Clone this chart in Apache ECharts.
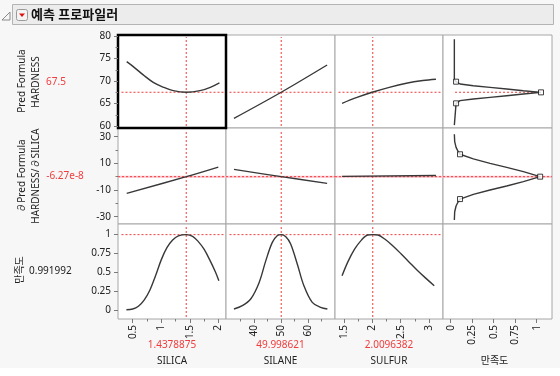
<!DOCTYPE html>
<html><head><meta charset="utf-8">
<script src="https://cdn.jsdelivr.net/npm/echarts@6/dist/echarts.min.js"></script>
<style>html,body{margin:0;padding:0;background:#fff}#c{width:560px;height:376px}</style>
</head><body><div id="c"></div>
<script>
// ---------- data ----------
const factorNames = ['SILICA', 'SILANE', 'SULFUR', '만족도'];
const currentX = [1.4378875, 49.998621, 2.0096382];
const currentXLabels = ['1.4378875', '49.998621', '2.0096382'];
const rowCurrent = [67.5, -6.27e-8, 0.991992];
const rowCurrentLabels = ['67.5', '-6.27e-8', '0.991992'];

// tick labels
const hardTicks = [60, 65, 70, 75, 80];
const hardMinor = [62.5, 67.5, 72.5, 77.5];
const derivTicks = [-30, -10, 10, 30];
const derivMinor = [-20, 0, 20];
const desirTicks = [0, 0.25, 0.5, 0.75, 1];
const silicaTicks = [0.5, 1, 1.5, 2];
const silicaMinor = [0.75, 1.25, 1.75];
const silaneTicks = [40, 50, 60];
const silaneMinor = [35, 45, 55, 65];
const sulfurTicks = [1.5, 2, 2.5, 3];
const sulfurMinor = [1.75, 2.25, 2.75];

// row 1: Pred Formula HARDNESS
const hardSilicaX = [0.395, 0.51, 0.69, 0.86, 1.04, 1.21, 1.44, 1.68, 1.86, 2.02];
const hardSilicaY = [74.3, 73.2, 71.3, 69.7, 68.6, 67.85, 67.5, 67.85, 68.6, 69.6];
const hardSilaneX = [32.5, 50, 67];
const hardSilaneY = [61.7, 67.5, 73.55];
const hardSulfurX = [1.47, 1.72, 2.0, 2.3, 2.6, 2.89, 3.12];
const hardSulfurY = [65.04, 66.3, 67.5, 68.6, 69.5, 70.1, 70.4];
// row 2: dHARDNESS/dSILICA
const derivSilicaX = [0.395, 1.44, 2.0];
const derivSilicaY = [-12.5, 0, 7.2];
const derivSilaneX = [32.5, 50, 67];
const derivSilaneY = [5.5, 0, -5];
const derivSulfurX = [1.47, 3.12];
const derivSulfurY = [0.2, 0.9];
// row 3: desirability
const desSilicaX = [0.39, 0.5, 0.6, 0.7, 0.8, 0.9, 1.0, 1.1, 1.2, 1.3, 1.44, 1.55, 1.65, 1.75, 1.85, 1.95, 2.01];
const desSilicaY = [0.004, 0.013, 0.05, 0.13, 0.26, 0.45, 0.66, 0.82, 0.92, 0.975, 0.992, 0.97, 0.9, 0.8, 0.66, 0.5, 0.385];
const desSilaneX = [32.5, 35.6, 38.7, 41.8, 44.3, 46.7, 48.6, 50, 51.7, 53.5, 56, 58.4, 61.5, 64.6, 67.1];
const desSilaneY = [0.013, 0.057, 0.145, 0.36, 0.65, 0.89, 0.98, 0.992, 0.965, 0.87, 0.6, 0.32, 0.1, 0.035, 0.013];
const desSulfurX = [1.47, 1.57, 1.69, 1.81, 1.92, 2.01, 2.10, 2.22, 2.36, 2.51, 2.65, 2.80, 2.94, 3.09];
const desSulfurY = [0.45, 0.63, 0.80, 0.92, 0.987, 0.992, 0.987, 0.934, 0.846, 0.737, 0.63, 0.517, 0.42, 0.32];
// desirability functions (x = desirability, y = response)
const dfHardD = [0.042, 0.042, 0.062, 0.108, 0.263, 0.457, 0.651, 0.845, 1.05, 0.845, 0.651, 0.457, 0.263, 0.108, 0.062, 0.042, 0.042];
const dfHardY = [79.27, 70.3, 69.85, 69.33, 68.96, 68.59, 68.22, 67.85, 67.48, 67.11, 66.74, 66.37, 66.0, 65.63, 65.04, 64.6, 60.2];
const dfHardMarkD = [0.062, 1.05, 0.062];
const dfHardMarkY = [69.85, 67.48, 65.04];
const dfDerivD = [0.042, 0.046, 0.062, 0.085, 0.108, 0.263, 0.457, 0.651, 0.845, 1.04, 0.845, 0.651, 0.457, 0.263, 0.108, 0.085, 0.062, 0.046, 0.042];
const dfDerivY = [31.8, 26.3, 22, 19, 16.8, 13.3, 10, 7, 3.75, 0, -3.75, -7, -10, -13.3, -16.8, -19, -22, -26.3, -32.5];
const dfDerivMarkD = [0.108, 1.04, 0.108];
const dfDerivMarkY = [16.8, 0, -16.8];
const desirRefSpan = [0.05, 1.04];

// ---------- layout ----------
const colLeft = [118, 226, 335, 443], colW = [108, 109, 108, 109];
const rowTop = [35, 128, 224], rowH = [93, 96, 95];
const colRange = [[0.2424, 2.135], [29.55, 69.92], [1.346, 3.244], [-0.09, 1.178]];
const rowRange = [[59.56, 80.22], [-35.5, 36.5], [-0.118, 1.132]];
const colMajor = [silicaTicks, silaneTicks, sulfurTicks, desirTicks];
const colMinor = [silicaMinor, silaneMinor, sulfurMinor, []];
const rowMajor = [hardTicks, derivTicks, desirTicks];
const rowMinor = [hardMinor, derivMinor, []];

const FONT = "'Noto Sans', 'Noto Sans CJK KR', sans-serif";
const TXT = '#222', RED = '#f03c3c', CURVE = '#383838';
const zip = (a, b) => a.map((v, i) => [v, b[i]]);

const curves = [
  [zip(hardSilicaX, hardSilicaY), zip(hardSilaneX, hardSilaneY), zip(hardSulfurX, hardSulfurY), zip(dfHardD, dfHardY)],
  [zip(derivSilicaX, derivSilicaY), zip(derivSilaneX, derivSilaneY), zip(derivSulfurX, derivSulfurY), zip(dfDerivD, dfDerivY)],
  [zip(desSilicaX, desSilicaY), zip(desSilaneX, desSilaneY), zip(desSulfurX, desSulfurY), null]
];
const markers = [zip(dfHardMarkD, dfHardMarkY), zip(dfDerivMarkD, dfDerivMarkY), null];

const grids = new Array(12), xAxes = [], yAxes = [], series = [];
const gi = p => (p + 11) % 12; // highlighted panel drawn last
for (let r = 0; r < 3; r++) for (let c = 0; c < 4; c++) {
  const p = r * 4 + c;
  grids[gi(p)] = {
    left: colLeft[c], top: rowTop[r], width: colW[c], height: rowH[r],
    show: true, backgroundColor: '#fff',
    borderColor: p === 0 ? '#000' : '#a6a6a6', borderWidth: p === 0 ? 2.5 : 1
  };
}
function axis(g, pos, rng, showT, major, len, labelOpts) {
  return {
    type: 'value', gridIndex: g, position: pos, offset: 0, min: rng[0], max: rng[1],
    axisLine: { show: false, onZero: false }, splitLine: { show: false }, axisPointer: { show: false },
    axisTick: { show: showT, length: len, lineStyle: { color: '#7a7a7a' }, customValues: major },
    axisLabel: labelOpts ? Object.assign({ show: true, customValues: major, color: TXT, fontSize: 10, fontFamily: FONT }, labelOpts) : { show: false }
  };
}
for (let p = 0; p < 12; p++) {
  const r = Math.floor(p / 4), c = p % 4;
  xAxes.push(axis(gi(p), 'bottom', colRange[c], r === 2, colMajor[c], 4, r === 2 ? { rotate: 90, margin: 6 } : null));
  yAxes.push(axis(gi(p), 'left', rowRange[r], c === 0, rowMajor[r], 4, c === 0 ? { margin: 7 } : null));
}
for (let p = 0; p < 12; p++) {
  const r = Math.floor(p / 4), c = p % 4;
  if (r === 2 && colMinor[c].length) xAxes.push(axis(gi(p), 'bottom', colRange[c], true, colMinor[c], 2.5, null));
  if (c === 0 && rowMinor[r].length) yAxes.push(axis(gi(p), 'left', rowRange[r], true, rowMinor[r], 2.5, null));
}

function refLine(p, data, style, z) {
  series.push({ type: 'line', xAxisIndex: p, yAxisIndex: p, data, showSymbol: false, silent: true,
    color: style.color, lineStyle: Object.assign({}, style), z: z || 3, animation: false });
}
const dot = () => ({ color: RED, width: 1, type: [2, 2] });
for (let r = 0; r < 3; r++) for (let c = 0; c < 4; c++) {
  const p = r * 4 + c;
  const xr = colRange[c], yr = rowRange[r];
  const xin = (xr[1] - xr[0]) * 3.5 / colW[c], yin = (yr[1] - yr[0]) * 2 / rowH[r];
  if (r === 1) {
    refLine(p, [[xr[0], rowCurrent[1]], [xr[1], rowCurrent[1]]], { color: '#ffc4cc', width: 2 }, 2);
    refLine(p, [[xr[0], rowCurrent[1]], [xr[1], rowCurrent[1]]], dot());
  } else if (c < 3) {
    refLine(p, [[xr[0] + xin, rowCurrent[r]], [xr[1] - xin * 0.7, rowCurrent[r]]], dot());
  } else if (r === 0) {
    refLine(p, [[desirRefSpan[0], rowCurrent[0]], [desirRefSpan[1], rowCurrent[0]]], dot());
  }
  if (c < 3) refLine(p, [[currentX[c], yr[0] + yin], [currentX[c], yr[1] - yin]], dot());
  if (curves[r][c]) {
    series.push({ type: 'line', xAxisIndex: p, yAxisIndex: p, data: curves[r][c], showSymbol: false,
      smooth: c < 3 ? 0.35 : false, silent: true, z: 4, animation: false, color: CURVE,
      lineStyle: { color: CURVE, width: 1.4 } });
  }
  if (c === 3 && markers[r]) {
    series.push({ type: 'scatter', xAxisIndex: p, yAxisIndex: p, data: markers[r], symbol: 'rect', symbolSize: 5,
      silent: true, z: 5, animation: false, itemStyle: { color: '#fff', borderColor: '#111', borderWidth: 1 } });
  }
}

// ---------- text ----------
const g = [];
const txt = (x, y, text, o) => g.push(Object.assign({ type: 'text', x, y, silent: true,
  style: Object.assign({ text, fill: TXT, font: '10px ' + FONT, align: 'center', verticalAlign: 'middle' }, (o && o.style) || {}) },
  o && o.rotation != null ? { rotation: o.rotation } : {}));
g.push({ type: 'rect', shape: { x: 0, y: 0, width: 560, height: 368 }, style: { fill: '#f7f7f7' }, z: -10, silent: true });
g.push({ type: 'rect', shape: { x: 12.5, y: 4.5, width: 541, height: 20 }, style: { fill: '#ececec', stroke: '#b4b4b4', lineWidth: 1 }, silent: true });
g.push({ type: 'polygon', shape: { points: [[10, 12], [10, 20], [2, 20]] }, style: { fill: 'none', stroke: '#8a8a8a', lineWidth: 1 }, silent: true });
g.push({ type: 'rect', shape: { x: 16.5, y: 9.5, width: 11, height: 11, r: 2 }, style: { fill: '#f4f4f4', stroke: '#9a9a9a', lineWidth: 1 }, silent: true });
g.push({ type: 'polygon', shape: { points: [[19, 13.5], [25, 13.5], [22, 17]] }, style: { fill: '#e01010' }, silent: true });
txt(31, 15, '예측 프로파일러', { style: { align: 'left', font: 'bold 13px ' + FONT, fill: '#111' } });

txt(22, 81, 'Pred Formula', { rotation: Math.PI / 2 });
txt(36, 82, 'HARDNESS', { rotation: Math.PI / 2 });
txt(56, 82, rowCurrentLabels[0], { style: { fill: RED } });
txt(22, 176, '∂Pred Formula', { rotation: Math.PI / 2 });
txt(36, 176, 'HARDNESS/∂SILICA', { rotation: Math.PI / 2 });
txt(65, 176, rowCurrentLabels[1], { style: { fill: RED } });
txt(20, 270, '만족도', { rotation: Math.PI / 2 });
txt(29, 271, rowCurrentLabels[2], { style: { align: 'left' } });
for (let c = 0; c < 4; c++) {
  const cx = colLeft[c] + colW[c] / 2;
  if (c < 3) txt(cx, 345, currentXLabels[c], { style: { fill: RED } });
  txt(cx - (c === 3 ? 3 : 0), 361, factorNames[c]);
}

const chart = echarts.init(document.getElementById('c'), null, { renderer: 'canvas' });
chart.setOption({
  animation: false, backgroundColor: '#fff',
  grid: grids, xAxis: xAxes, yAxis: yAxes, series, graphic: g
});
</script></body></html>
